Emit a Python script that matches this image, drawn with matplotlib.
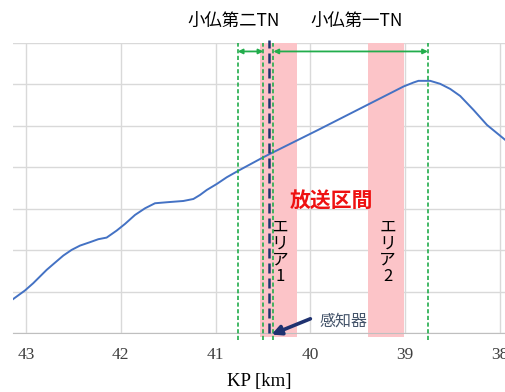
import matplotlib
matplotlib.use('Agg')
import matplotlib.pyplot as plt
import numpy as np

# elevation profile (KP in km, elevation in arbitrary grid units)
kp = [43.134, 43.011, 42.923, 42.782, 42.712, 42.606, 42.518, 42.430, 42.325, 42.237,
      42.149, 42.043, 41.956, 41.850, 41.744, 41.639, 41.515, 41.340, 41.234, 41.164,
      41.093, 40.987, 40.882, 40.759, 40.530, 40.446, 39.918, 39.018,
      38.913, 38.860, 38.736, 38.631, 38.525, 38.420, 38.279, 38.137, 37.944]
elev = [8.27, 10.31, 12.08, 15.28, 16.66, 18.73, 20.10, 21.13, 21.95, 22.67,
        23.06, 24.75, 26.34, 28.51, 30.12, 31.33, 31.57, 31.88, 32.36, 33.33,
        34.53, 35.98, 37.59, 39.18, 42.00, 43.00, 49.00, 59.45,
        60.41, 60.82, 60.82, 60.10, 58.87, 57.18, 53.81, 50.19, 46.58]

area_spans = [(40.53, 40.14), (39.39, 39.01)]
area_labels = ['エ\nリ\nア\n1', 'エ\nリ\nア\n2']
tunnel_bounds = [40.766, 40.496, 40.39, 38.76]
tunnel_names = ['小仏第二TN', '小仏第一TN']
sensor_kp = 40.44
x_ticks = [43, 42, 41, 40, 39, 38]

cjk = ['Noto Sans CJK JP', 'DejaVu Sans']
green = '#22ad4c'
navy = '#1f3270'

fig = plt.figure(figsize=(5.05, 3.92), dpi=100)
ax = fig.add_axes([0.0257, 0.1497, 0.9743, 0.7413])
ax.set_xlim(43.137, 37.947)
ax.set_ylim(0, 70)

ax.set_xticks(x_ticks)
ax.set_yticks(np.arange(0, 71, 10))
ax.grid(True, color='#d9d9d9', lw=1)
ax.set_axisbelow(True)
for s in ['top', 'right', 'left']:
    ax.spines[s].set_visible(False)
ax.spines['bottom'].set_color('#bfbfbf')
ax.tick_params(axis='y', left=False, labelleft=False)
ax.tick_params(axis='x', length=0, pad=10, labelsize=12.5, labelcolor='#404040')
for lab in ax.get_xticklabels():
    lab.set_fontfamily('Liberation Serif')
ax.set_xlabel('KP [km]', fontfamily='Liberation Serif', fontsize=13.5, labelpad=7)

# broadcast areas
for (a, b), lab in zip(area_spans, area_labels):
    ax.axvspan(a, b, ymin=-0.012, ymax=1, color='#fcc4c8', lw=0, clip_on=False, zorder=1)
    ax.text((a + b) / 2 - 0.015, 19.6, lab, family=cjk, fontsize=12, ha='center', va='center',
            linespacing=0.95, zorder=4)

ax.plot(kp, elev, color='#4472c4', lw=1.4, zorder=3)

# tunnel boundaries
for x in tunnel_bounds:
    ax.plot([x, x], [-1.7, 70], color=green, lw=1.2, ls=(0, (2.5, 1.5)), clip_on=False, zorder=4)
for x0, x1 in [(tunnel_bounds[0], tunnel_bounds[1]), (tunnel_bounds[2], tunnel_bounds[3])]:
    ax.annotate('', xy=(x1, 67.9), xytext=(x0, 67.9),
                arrowprops=dict(arrowstyle='<|-|>', color=green, lw=1.3, mutation_scale=7,
                                shrinkA=0, shrinkB=0), zorder=5)
ax.text(40.805, 75.3, tunnel_names[0], family=cjk, fontsize=12.5, ha='center', va='center')
ax.text(39.517, 75.3, tunnel_names[1], family=cjk, fontsize=12.5, ha='center', va='center')

# sensor
ax.plot([sensor_kp, sensor_kp], [0, 70.6], color=navy, lw=1.8, ls=(0, (4, 2)), clip_on=False, zorder=5)
ax.annotate('', xy=(40.41, -0.3), xytext=(40.0, 3.5),
            arrowprops=dict(arrowstyle='-|>', color=navy, lw=2.6, mutation_scale=14,
                            shrinkA=0, shrinkB=0), zorder=6, annotation_clip=False)
ax.text(39.654, 2.9, '感知器', family=cjk, fontsize=11.5, color='#44546a', ha='center', va='center')

ax.text(39.774, 32.1, '放送区間', family=cjk, fontsize=15, fontweight='bold', color='#ee1111',
        ha='center', va='center', zorder=6)

fig.savefig('out.png', dpi=100)
